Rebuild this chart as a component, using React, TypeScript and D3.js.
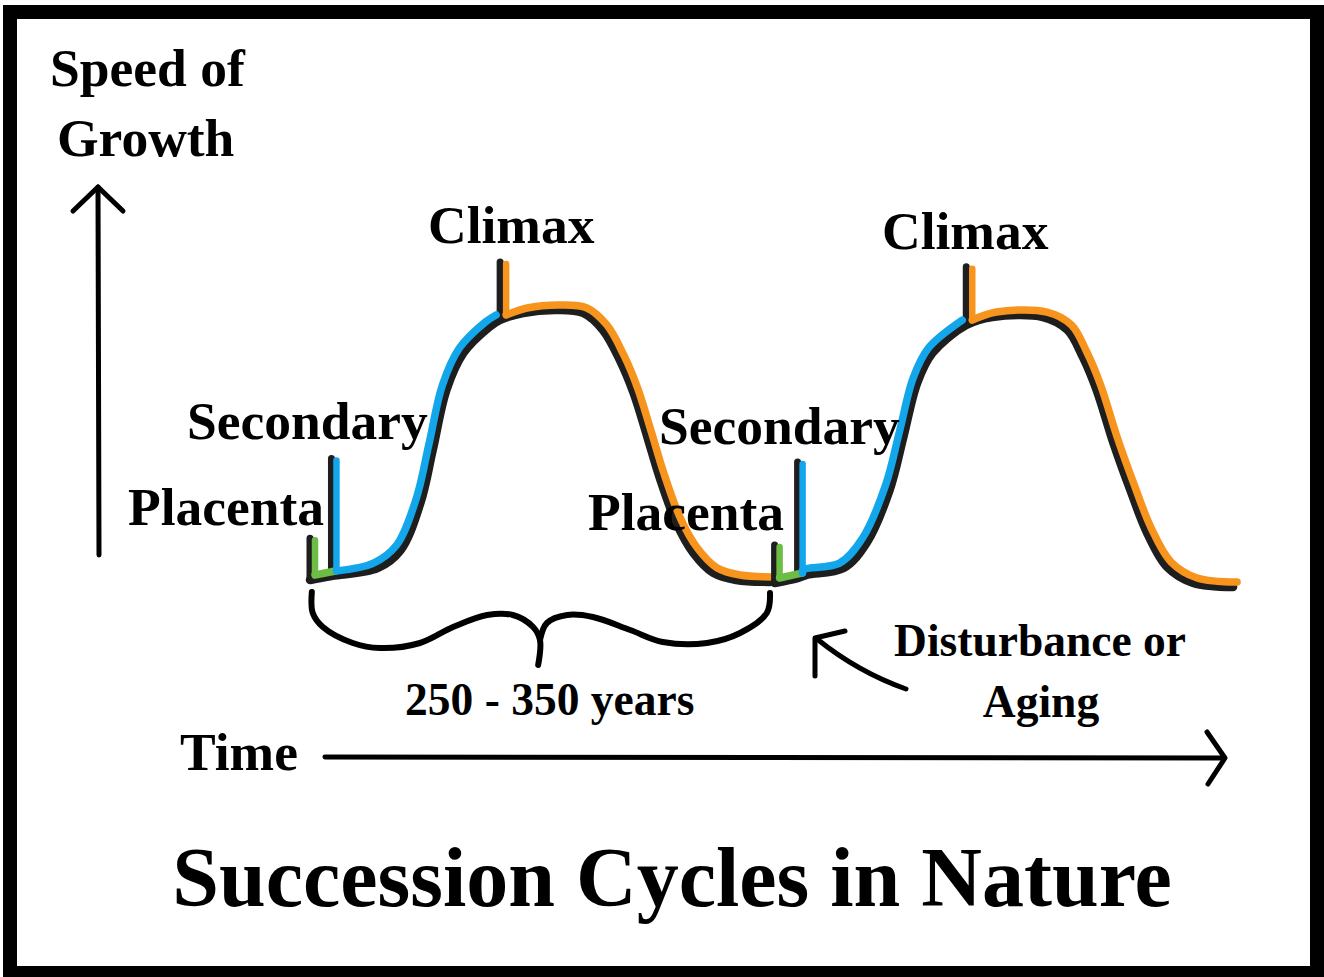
import React from 'react'
import * as d3 from 'd3'

// Hand-drawn succession diagram: growth speed over time, two cycles

const W = 1324
const H = 977

// cycle 1 (years, speed %)
const cycle1Years = [0, 14, 44, 59, 72, 80, 89, 100, 117, 124, 139, 161, 178, 191, 202, 211, 220, 228, 239, 250, 263, 278, 300]
const cycle1Speed = [0, 1.5, 4.4, 11, 28.5, 48, 70.4, 84, 93.7, 96.3, 98.9, 100, 98.9, 92.6, 81.5, 69.3, 53, 38, 21, 10, 2.6, 0, -0.7]

// cycle 2
const cycle2Years = [303, 318, 324, 348, 363, 378, 387, 396, 406, 428, 445, 478, 494, 504, 513, 524, 535, 546, 559, 576, 602]
const cycle2Speed = [-1.1, 0.7, 1.9, 4.4, 13.7, 33.3, 53, 73, 84.1, 94.4, 97.4, 97.4, 92.6, 82.6, 70.4, 50.7, 33.3, 17.4, 4.8, -1.1, -2.6]

// stage markers per cycle: year the stage starts, and height of the tick
const stageNames = ['Placenta', 'Secondary', 'Climax']
const stageYears1 = [0, 14, 124]
const stageYears2 = [303, 318, 428]
const tickTops1 = [15.5, 45, 117.8]
const tickTops2 = [13, 43.7, 116]

const spanLabel = '250 - 350 years'

// brace shape (fraction of span, drop in px)
const braceLeft = [[0.004, 0], [0.006, 21], [0.028, 35], [0.093, 51], [0.152, 56], [0.239, 51], [0.311, 35], [0.385, 23], [0.441, 23], [0.485, 35], [0.5, 48], [0.496, 73]]
const braceRight = [[0.5, 48], [0.515, 31], [0.559, 23], [0.615, 25], [0.696, 38], [0.767, 50], [0.863, 51], [0.935, 41], [0.993, 21], [1.0, 1]]

const BLACK = '#1e1e1e'
const GREEN = '#6cbd45'
const BLUE = '#13a6ea'
const ORANGE = '#f7941d'
const FONT = '"Liberation Serif", "Times New Roman", serif'

const x = d3.scaleLinear().domain([0, 600]).range([310, 1230])
const y = d3.scaleLinear().domain([0, 100]).range([580, 310])

const smooth = d3.line<number[]>().x(d => d[0]).y(d => d[1]).curve(d3.curveCatmullRom.alpha(0.5))

const speedAt = (years: number[], speed: number[], yr: number) => {
  const i = d3.bisectLeft(years, yr)
  if (i <= 0) return speed[0]
  if (i >= years.length) return speed[speed.length - 1]
  const t = (yr - years[i - 1]) / (years[i] - years[i - 1])
  return speed[i - 1] + t * (speed[i] - speed[i - 1])
}

const Cycle = ({ years, speed, stages, tops }: any) => {
  const pts = years.map((yr: number, i: number) => [x(yr), y(speed[i])])
  const colors = [GREEN, BLUE, ORANGE]
  const ends = [stages[1], stages[2], years[years.length - 1]]
  const shifts = [[4, -5], [-4, -5], [4, -5]]
  const tickOff = [5, 5, 6]

  return (
    <g>
      <path d={smooth(pts) || ''} fill="none" stroke={BLACK} strokeWidth={8.5} strokeLinecap="round" strokeLinejoin="round" />
      {stages.map((s: number, k: number) => (
        <line key={'b' + k} x1={x(s)} x2={x(s)} y1={y(tops[k])} y2={y(speedAt(years, speed, s))}
          stroke={BLACK} strokeWidth={7} strokeLinecap="round" />
      ))}
      {stages.map((s: number, k: number) => {
        const base = y(speedAt(years, speed, s))
        const tx = x(s) + tickOff[k]
        const seg = years
          .map((yr: number, i: number) => [yr, i])
          .filter((d: number[]) => d[0] > s + 0.5 && d[0] <= ends[k])
          .map((d: number[]) => [pts[d[1]][0] + shifts[k][0], pts[d[1]][1] + shifts[k][1]])
        const colored = [[tx, base - 5], ...seg]
        return (
          <g key={'c' + k}>
            <line x1={tx} x2={tx} y1={y(tops[k]) + 2} y2={base - 5} stroke={colors[k]} strokeWidth={6.5} strokeLinecap="round" />
            <path d={smooth(colored) || ''} fill="none" stroke={colors[k]} strokeWidth={7.5} strokeLinecap="round" strokeLinejoin="round" />
          </g>
        )
      })}
    </g>
  )
}

const labelStyle = { fontFamily: FONT, fontWeight: 700, fill: '#000' } as const

export default function App() {
  const bx0 = x(cycle1Years[0])
  const bx1 = x(cycle1Years[cycle1Years.length - 1])
  const by = 592
  const braceLine = d3.line<number[]>().x(d => bx0 + d[0] * (bx1 - bx0)).y(d => by + d[1]).curve(d3.curveCatmullRom.alpha(0.5))

  return (
    <div style={{ position: 'absolute', left: 0, top: 0 }}>
      <svg width={W} height={H} style={{ display: 'block', background: '#fff' }}>
        <rect x={10} y={12} width={1307} height={961} fill="#fff" stroke="#000" strokeWidth={14} />

        {/* y axis arrow */}
        <g stroke="#000" strokeWidth={5} strokeLinecap="round" fill="none">
          <line x1={99} y1={555} x2={98} y2={187} />
          <polyline points="73,211 98,187 123,211" strokeLinejoin="round" />
          {/* x axis arrow */}
          <line x1={325} y1={757} x2={1224} y2={758} />
          <polyline points="1207,732 1225,758 1208,784" strokeLinejoin="round" />
          {/* disturbance arrow */}
          <path d="M906,689 Q858,672 817,639" />
          <polyline points="815,676 815,638 845,631" strokeLinejoin="round" />
        </g>

        <Cycle years={cycle1Years} speed={cycle1Speed} stages={stageYears1} tops={tickTops1} />
        <Cycle years={cycle2Years} speed={cycle2Speed} stages={stageYears2} tops={tickTops2} />

        {/* brace under first cycle */}
        <path d={braceLine(braceLeft) || ''} fill="none" stroke="#000" strokeWidth={6} strokeLinecap="round" />
        <path d={braceLine(braceRight) || ''} fill="none" stroke="#000" strokeWidth={6} strokeLinecap="round" />

        <g style={labelStyle} fontSize={53.5}>
          <text x={50} y={86}>Speed of</text>
          <text x={57} y={156}>Growth</text>
          <text x={428} y={243}>{stageNames[2]}</text>
          <text x={882} y={249}>{stageNames[2]}</text>
          <text x={187} y={439}>{stageNames[1]}</text>
          <text x={659} y={444}>{stageNames[1]}</text>
          <text x={128} y={525}>{stageNames[0]}</text>
          <text x={588} y={530}>{stageNames[0]}</text>
          <text x={180} y={770}>Time</text>
        </g>
        <g style={labelStyle} fontSize={45.5}>
          <text x={405} y={715}>{spanLabel}</text>
          <text x={1040} y={656} textAnchor="middle">Disturbance or</text>
          <text x={1041} y={717} textAnchor="middle">Aging</text>
        </g>
        <text x={672} y={906} textAnchor="middle" style={labelStyle} fontSize={84}>Succession Cycles in Nature</text>
      </svg>
    </div>
  )
}
